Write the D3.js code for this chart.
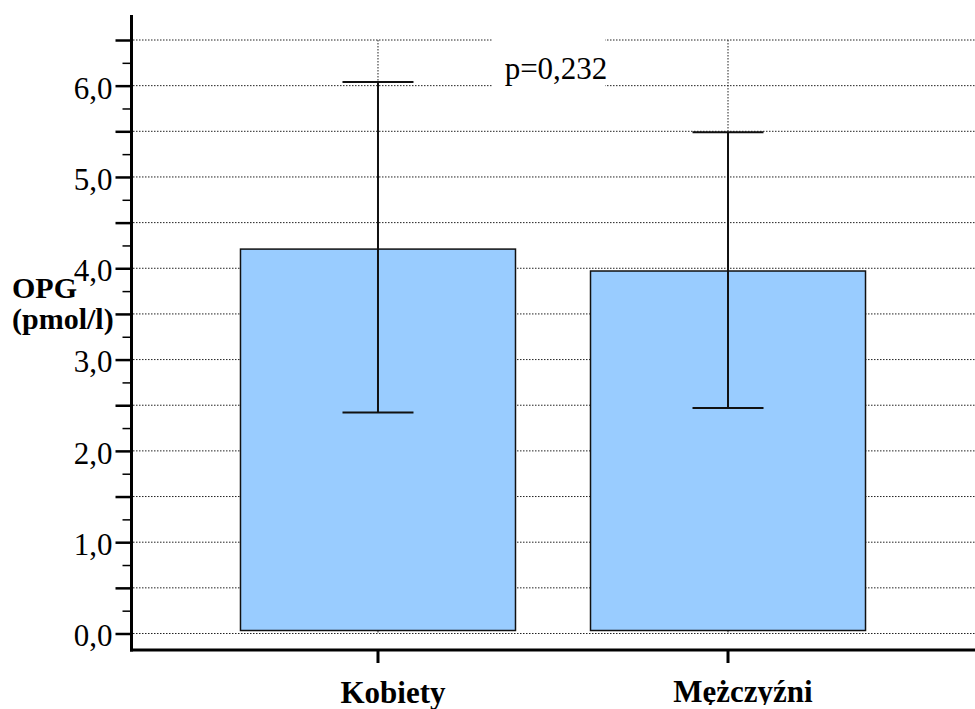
<!DOCTYPE html>
<html>
<head>
<meta charset="utf-8">
<style>
    body { margin: 0; background: #fff; }
    svg text { font-family: "Liberation Serif", "Times New Roman", "DejaVu Serif", serif; fill: #000; }
</style>
</head>
<body>
<svg id="chart" width="975" height="709"></svg>
<script src="https://cdn.jsdelivr.net/npm/d3@7"></script>
<script>
    // values
    const categories = ["Kobiety", "Mężczyźni"]
    const means = [4.21, 3.97]
    const lower = [2.42, 2.47]
    const upper = [6.04, 5.49]
    const majorTicks = [0, 0.5, 1, 1.5, 2, 2.5, 3, 3.5, 4, 4.5, 5, 5.5, 6, 6.5]
    const minorTicks = [0.25, 0.75, 1.25, 1.75, 2.25, 2.75, 3.25, 3.75, 4.25, 4.75, 5.25, 5.75, 6.25]
    const labelTicks = [0, 1, 2, 3, 4, 5, 6]
    const pText = "p=0,232"
    const yTitle = ["OPG", "(pmol/l)"]

    let serif = "'Liberation Serif', 'Times New Roman', 'DejaVu Serif', serif"
    let svg = d3.select("#chart")
    let axisX = 131.5, axisBottom = 650, axisTop = 15, right = 975

    let y = d3.scaleLinear().domain([0, 6.5]).range([633.5, 40])
    let x = d3.scaleBand().domain(categories).range([203, 903])
        .paddingInner(0.2143).paddingOuter(0.1071)
    let cx = d => x(d) + x.bandwidth() / 2

    // comma decimal, like the original
    let fmt = v => d3.format(".1f")(v).replace(".", ",")

    // dotted grid
    let grid = svg.append("g")
    grid.selectAll("line.h").data(majorTicks).enter().append("line")
        .attr("x1", axisX + 1.5).attr("x2", right)
        .attr("y1", d => y(d)).attr("y2", d => y(d))
        .style("stroke", "#222").style("stroke-width", 1).style("stroke-dasharray", "1.5,1.5")
    grid.selectAll("line.v").data(categories).enter().append("line")
        .attr("x1", cx).attr("x2", cx)
        .attr("y1", y(6.5)).attr("y2", y(0))
        .style("stroke", "#222").style("stroke-width", 1).style("stroke-dasharray", "1.5,1.5")

    // bars
    svg.selectAll("rect.bar").data(categories).enter().append("rect")
        .attr("x", d => x(d))
        .attr("width", x.bandwidth())
        .attr("y", (d, i) => y(means[i]))
        .attr("height", (d, i) => y(0) - 3 - y(means[i]))
        .style("fill", "#99ccff").style("stroke", "#111").style("stroke-width", 1.5)

    // error bars
    let err = svg.append("g").style("stroke", "#111").style("stroke-width", 2)
    err.selectAll("line.stem").data(categories).enter().append("line")
        .attr("x1", cx).attr("x2", cx)
        .attr("y1", (d, i) => y(upper[i])).attr("y2", (d, i) => y(lower[i]))
    err.selectAll("line.top").data(categories).enter().append("line")
        .attr("x1", d => cx(d) - 35.5).attr("x2", d => cx(d) + 35.5)
        .attr("y1", (d, i) => y(upper[i])).attr("y2", (d, i) => y(upper[i]))
    err.selectAll("line.bot").data(categories).enter().append("line")
        .attr("x1", d => cx(d) - 35.5).attr("x2", d => cx(d) + 35.5)
        .attr("y1", (d, i) => y(lower[i])).attr("y2", (d, i) => y(lower[i]))

    // y axis: long ticks every 0.5, short ticks between, labels on integers
    let yMajor = d3.axisLeft(y).tickValues(majorTicks).tickSize(16).tickPadding(3)
        .tickFormat(d => labelTicks.includes(d) ? fmt(d) : "")
    let gy = svg.append("g").attr("transform", `translate(${axisX},0)`).call(yMajor)
        .attr("font-family", serif).attr("font-size", 31)
    gy.select(".domain").remove()
    gy.selectAll(".tick line").style("stroke", "#000").style("stroke-width", 2.5)
    gy.selectAll(".tick text").attr("dy", "0.4em")

    let yMinor = d3.axisLeft(y).tickValues(minorTicks).tickSize(9).tickFormat("")
    let gm = svg.append("g").attr("transform", `translate(${axisX},0)`).call(yMinor)
    gm.select(".domain").remove()
    gm.selectAll(".tick line").style("stroke", "#000").style("stroke-width", 1.5)

    // x axis
    let xAxis = d3.axisBottom(x).tickSize(13).tickFormat("")
    let gx = svg.append("g").attr("transform", `translate(0,${axisBottom})`).call(xAxis)
    gx.select(".domain").remove()
    gx.selectAll(".tick line").style("stroke", "#000").style("stroke-width", 3)

    // axis lines
    svg.append("line").attr("x1", axisX).attr("x2", axisX)
        .attr("y1", axisTop).attr("y2", axisBottom + 1.5)
        .style("stroke", "#000").style("stroke-width", 3)
    svg.append("line").attr("x1", axisX - 1.5).attr("x2", right)
        .attr("y1", axisBottom).attr("y2", axisBottom)
        .style("stroke", "#000").style("stroke-width", 3)

    // category labels (the second one is cut at the bottom in the original)
    svg.append("clipPath").attr("id", "cut")
        .append("rect").attr("x", 0).attr("y", 0).attr("width", 975).attr("height", 705)
    svg.selectAll("text.cat").data(categories).enter().append("text")
        .attr("x", d => cx(d) + 15).attr("y", (d, i) => 703 - i)
        .attr("text-anchor", "middle")
        .attr("clip-path", (d, i) => i == 1 ? "url(#cut)" : null)
        .style("font-family", serif).style("font-size", "31px").style("font-weight", "bold")
        .text(d => d)

    // y title
    svg.selectAll("text.ytitle").data(yTitle).enter().append("text")
        .attr("x", 12).attr("y", (d, i) => 298 + i * 31)
        .style("font-family", serif).style("font-size", "30px").style("font-weight", "bold")
        .text(d => d)

    // p value with white box
    let px = (cx(categories[0]) + cx(categories[1])) / 2 + 3
    svg.append("rect").attr("x", px - 64).attr("y", y(6.5) - 2)
        .attr("width", 113).attr("height", 50).style("fill", "#fff")
    svg.append("text").attr("x", px).attr("y", y(6.5) + 39)
        .attr("text-anchor", "middle")
        .style("font-family", serif).style("font-size", "31px")
        .text(pText)
</script>
</body>
</html>
